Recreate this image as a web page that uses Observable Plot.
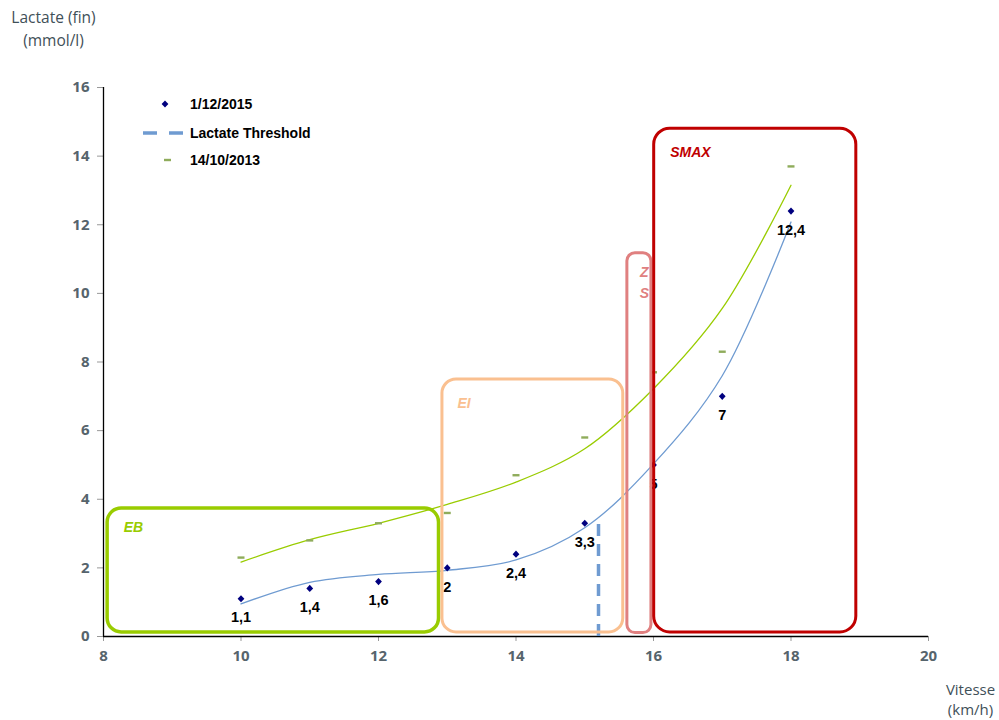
<!DOCTYPE html>
<html>
<head>
<meta charset="utf-8">
<script src="https://cdn.jsdelivr.net/npm/d3@7"></script>
<script src="https://cdn.jsdelivr.net/npm/@observablehq/plot@0.6"></script>
<style>
  html, body { margin: 0; padding: 0; background: #fff; }
  #wrap { position: relative; width: 999px; height: 720px; }
  #legend { position: absolute; left: 140px; top: 92px; font: bold 14px "Liberation Sans", Arial, sans-serif; color: #000; }
  #legend div { position: absolute; white-space: nowrap; left: 50px; }
  #legend svg { position: absolute; left: 0; top: 0; overflow: visible; }
</style>
</head>
<body>
<div id="wrap">
  <div id="chart"></div>
  <div id="legend"></div>
</div>
<script>
// ---- data ----
const speeds = [10, 11, 12, 13, 14, 15, 16, 17, 18];
const lactate2015 = [1.1, 1.4, 1.6, 2, 2.4, 3.3, 5, 7, 12.4];
const lactate2013 = [2.3, 2.8, 3.3, 3.6, 4.7, 5.8, 7.7, 8.3, 13.7];
const trend2015 = [0.95, 1.58, 1.81, 1.93, 2.23, 3.17, 5.03, 7.6, 12.08];
const trend2013 = [2.17, 2.82, 3.30, 3.85, 4.5, 5.47, 7.22, 9.56, 13.15];
const labels2015 = ["1,1", "1,4", "1,6", "2", "2,4", "3,3", "5", "7", "12,4"];
const seriesNames = ["1/12/2015", "Lactate Threshold", "14/10/2013"];
const thresholdSpeed = [15.2];
const thresholdLactate = [3.4];
const zoneNames = ["EB", "EI", "Z\nS", "SMAX"];
const zoneX1 = [8.06, 12.93, 15.62, 16.01];
const zoneX2 = [12.88, 15.56, 15.97, 18.95];
const zoneY1 = [0.12, 0.12, 0.1, 0.12];
const zoneY2 = [3.73, 7.49, 11.17, 14.8];
const xTicks = [8, 10, 12, 14, 16, 18, 20];
const yTicks = [0, 2, 4, 6, 8, 10, 12, 14, 16];

// ---- styles ----
const zoneColors = ["#99cc00", "#fac090", "#e08080", "#c00000"];
const zoneRadius = [14, 14, 8, 16];
const zoneWidth = [3.5, 3, 3, 3];
const zoneDx = [16, 15, 17, 16];
const zoneDy = [8, 13, 8, 13];
const blue = "#6f9bd1";
const navy = "#00007f";
const green = "#99cc00";
const olive = "#8fac5b";

const pts2015 = speeds.map((x, i) => ({x, y: lactate2015[i], label: labels2015[i]}));
const pts2013 = speeds.map((x, i) => ({x, y: lactate2013[i]}));
const tr2015 = speeds.map((x, i) => ({x, y: trend2015[i]}));
const tr2013 = speeds.map((x, i) => ({x, y: trend2013[i]}));
const zones = zoneNames.map((name, i) => ({name, x1: zoneX1[i], x2: zoneX2[i], y1: zoneY1[i], y2: zoneY2[i]}));
const threshold = thresholdSpeed.map((x, i) => ({x, y1: 0, y2: thresholdLactate[i]}));

const dashSymbol = { draw(ctx, size) { ctx.moveTo(-3.5, -1.2); ctx.lineTo(3.5, -1.2); ctx.lineTo(3.5, 1.2); ctx.lineTo(-3.5, 1.2); ctx.closePath(); } };
const diamondSymbol = { draw(ctx, size) { ctx.moveTo(0, -3.6); ctx.lineTo(3.4, 0); ctx.lineTo(0, 3.6); ctx.lineTo(-3.4, 0); ctx.closePath(); } };

const zoneMarks = zones.flatMap((z, i) => [
  Plot.rect([z], {x1: "x1", x2: "x2", y1: "y1", y2: "y2", fill: "none", stroke: zoneColors[i], strokeWidth: zoneWidth[i], rx: zoneRadius[i]}),
  Plot.text([z], {x: "x1", y: "y2", text: "name", dx: zoneDx[i], dy: zoneDy[i], textAnchor: i === 2 ? "middle" : "start", lineAnchor: "top", lineHeight: 1.55, fill: zoneColors[i], fontSize: 14, fontWeight: "bold", fontStyle: "italic", fontFamily: "Liberation Sans, Arial, sans-serif"})
]);

const chart = Plot.plot({
  width: 999,
  height: 720,
  marginLeft: 103,
  marginRight: 71,
  marginTop: 87,
  marginBottom: 84,
  style: {fontFamily: "Open Sans, sans-serif", background: "#fff", overflow: "visible"},
  x: {domain: [8, 20]},
  y: {domain: [0, 16]},
  marks: [
    Plot.axisX({ticks: xTicks, tickSize: 5, tickPadding: 9, stroke: "#999", fill: "#56646c", fontSize: 15, fontWeight: "bold", label: null}),
    Plot.axisY({ticks: yTicks, tickSize: 6, tickPadding: 8, stroke: "#999", fill: "#56646c", fontSize: 15, fontWeight: "bold", label: null}),
    Plot.ruleX([8], {y1: 0, y2: 16, stroke: "#000", strokeWidth: 1.3}),
    Plot.ruleY([0], {x1: 8, x2: 20, stroke: "#000", strokeWidth: 1.3}),
    Plot.line(tr2013, {x: "x", y: "y", stroke: green, strokeWidth: 1.3, curve: "catmull-rom"}),
    Plot.line(tr2015, {x: "x", y: "y", stroke: blue, strokeWidth: 1.3, curve: "catmull-rom"}),
    Plot.dot(pts2013, {x: "x", y: "y", symbol: dashSymbol, r: 3, fill: olive, stroke: "none"}),
    Plot.dot(pts2015, {x: "x", y: "y", symbol: diamondSymbol, r: 3.6, fill: navy, stroke: "none"}),
    Plot.text(pts2015, {x: "x", y: "y", text: "label", dy: 19, fill: "#000", fontSize: 14.5, fontWeight: "bold", fontFamily: "Liberation Sans, Arial, sans-serif"}),
    Plot.ruleX(threshold, {x: "x", y1: "y1", y2: "y2", stroke: blue, strokeWidth: 3.5, strokeDasharray: "12,8"}),
    ...zoneMarks,
    Plot.text(["Lactate (fin)\n(mmol/l)"], {frameAnchor: "top-left", dx: -50, dy: -80, lineAnchor: "top", lineHeight: 1.45, fill: "#3f5058", fontSize: 15.5, textAnchor: "middle"}),
    Plot.text(["Vitesse\n(km/h)"], {frameAnchor: "bottom-right", dx: 42, dy: 44, lineAnchor: "top", lineHeight: 1.35, fill: "#3f5058", fontSize: 15, textAnchor: "middle"})
  ]
});
document.getElementById("chart").appendChild(chart);

// ---- legend ----
const legend = document.getElementById("legend");
const swatches = [
  `<svg width="50" height="20" style="top:2px"><path d="M25,6.4 L28.4,10 L25,13.6 L21.6,10 Z" fill="${navy}"/></svg>`,
  `<svg width="50" height="20" style="top:31px"><line x1="3" x2="43" y1="10" y2="10" stroke="${blue}" stroke-width="3.5" stroke-dasharray="14,12"/></svg>`,
  `<svg width="50" height="20" style="top:58px"><rect x="24" y="8.8" width="7" height="2.4" fill="${olive}"/></svg>`
];
const tops = [4, 33, 60];
seriesNames.forEach((name, i) => {
  legend.insertAdjacentHTML("beforeend", swatches[i]);
  const d = document.createElement("div");
  d.style.top = tops[i] + "px";
  d.textContent = name;
  legend.appendChild(d);
});
</script>
</body>
</html>
